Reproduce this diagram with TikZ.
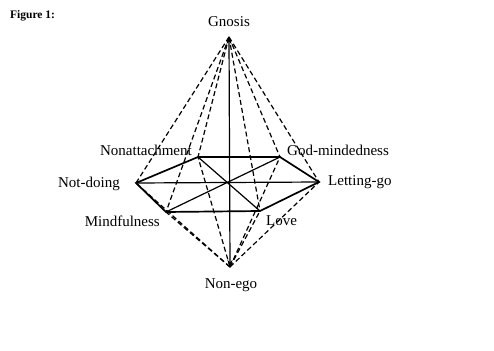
\documentclass[tikz,border=0pt]{standalone}
\usepackage{fontspec}
\setmainfont{Liberation Serif}
\usetikzlibrary{arrows.meta}
\begin{document}
\begin{tikzpicture}[x=1pt,y=-1pt,
  lbl/.style={font=\fontsize{15}{17}\selectfont, inner sep=0pt},
  solidln/.style={line width=1.7pt},
  thinln/.style={line width=1.2pt},
  dashln/.style={line width=1.2pt, dash pattern=on 5pt off 3pt}]
\useasboundingbox (0,0) rectangle (494,350);
\coordinate (G) at (229,37);
\coordinate (N) at (230,267);
\coordinate (ND) at (136,183);
\coordinate (NA) at (198,157);
\coordinate (GM) at (280,157);
\coordinate (LG) at (319,182);
\coordinate (LV) at (260,211);
\coordinate (MF) at (166,212);
% labels
\node[font=\bfseries\fontsize{11.5}{13}\selectfont, anchor=west, inner sep=0pt] (fig) at (10,16) {Figure 1:};
\node[lbl] (lG) at (229,22) {Gnosis};
\node[lbl] (lN) at (231,285) {Non-ego};
\node[lbl, anchor=east] (lNA) at (192,150) {Nonattachment};
\node[lbl, anchor=west] (lGM) at (287,150) {God-mindedness};
\node[lbl, anchor=east] (lND) at (120,184) {Not-doing};
\node[lbl, anchor=west] (lLG) at (328,182) {Letting-go};
\node[lbl, anchor=east] (lMF) at (160,221) {Mindfulness};
\node[lbl, anchor=west] (lLV) at (266,221) {Love};
% dashed fans
\foreach \v in {ND,NA,GM,LG,LV,MF}{
  \draw[dashln] (G) -- (\v);
  \draw[dashln] (N) -- (\v);
}
% hexagon
\draw[solidln, line join=miter] (ND) -- (NA) -- (GM) -- (LG) -- (LV) -- (MF) -- cycle;
\draw[thinln] (ND) -- (LG);
\draw[thinln] (NA) -- (LV);
\draw[thinln] (MF) -- (GM);
% axis
\draw[thinln, {Stealth[length=7pt,width=5pt]}-{Stealth[length=7pt,width=5pt]}] (G) -- (N);
\end{tikzpicture}
\end{document}
